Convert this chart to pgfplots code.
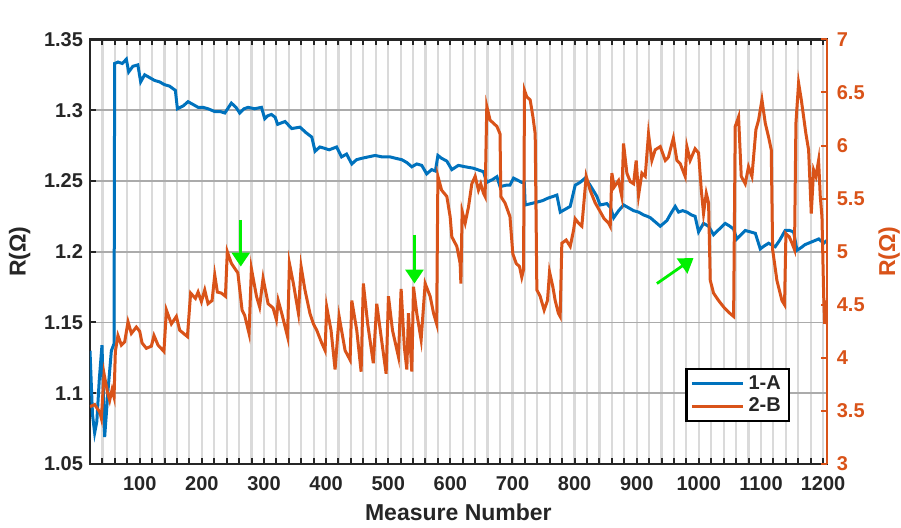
\documentclass[border=0pt]{standalone}
\usepackage{fontspec}
\setmainfont{Liberation Sans}
\usepackage{pgfplots}
\usepackage{pgfplotstable}
\pgfplotsset{compat=1.18}
\usetikzlibrary{arrows.meta}
\definecolor{mblue}{HTML}{0072BD}
\definecolor{morange}{HTML}{D95319}
\definecolor{mtext}{HTML}{262626}
\definecolor{vgrid}{HTML}{DADADA}
\definecolor{hgrid}{HTML}{ABABAB}
\definecolor{agreen}{HTML}{00F000}

% 1-A, left axis (x10^6 ohm)
\pgfplotstableread{
x y
20 1.130
24 1.085
27.5 1.072
31 1.080
35 1.110
39.3 1.134
43.6 1.069
49 1.102
54.4 1.130
58.7 1.135
59.7 1.333
65 1.334
72 1.333
78.5 1.336
82.3 1.327
89 1.331
97 1.332
101.6 1.320
108 1.325
116 1.323
124 1.321
132 1.320
140 1.318
148 1.317
157.4 1.314
160.7 1.301
170 1.303
177.8 1.306
186 1.304
194 1.302
202 1.302
210 1.301
221 1.299
230 1.299
237 1.298
247.6 1.305
255 1.302
261 1.298
268 1.301
274.5 1.302
285 1.301
296 1.302
301.3 1.294
306 1.296
312 1.297
318 1.295
322 1.290
334 1.292
344.7 1.287
358 1.288
368 1.284
377 1.281
382.3 1.271
390 1.274
398 1.273
405 1.272
417 1.274
425 1.267
433 1.269
441.4 1.262
449 1.265
457.5 1.266
468 1.267
479 1.268
490 1.267
503 1.267
512 1.266
522 1.265
530 1.263
538 1.260
546 1.262
554 1.261
562 1.255
570 1.258
576 1.257
580 1.268
586 1.266
594.4 1.264
602.4 1.258
613 1.261
624 1.260
637 1.259
653.4 1.2565
658.7 1.249
668 1.251
675 1.253
680 1.246
690 1.247
696 1.247
701.7 1.252
715 1.249
719 1.249
720.5 1.233
730 1.234
739 1.235
748 1.236
758 1.238
765 1.239
771.5 1.240
777 1.228
785 1.230
793 1.232
801 1.247
809 1.249
817 1.252
825 1.247
836 1.239
841 1.233
852 1.234
858 1.231
863 1.224
871 1.229
879 1.233
887 1.231
895 1.229
903 1.228
911 1.226
917 1.225
922 1.224
930 1.221
938 1.218
948.6 1.222
955 1.227
962 1.232
967.4 1.228
974 1.229
980.8 1.228
988 1.226
994 1.225
999.6 1.214
1007.6 1.220
1015.7 1.218
1023.7 1.212
1033 1.216
1042.5 1.220
1050 1.218
1056 1.216
1061 1.209
1068 1.212
1074.7 1.215
1083 1.214
1091 1.213
1098.9 1.202
1105 1.204
1112.3 1.206
1123 1.2035
1130 1.208
1139 1.215
1146 1.215
1152.6 1.214
1158 1.201
1165 1.203
1171 1.205
1182 1.207
1193 1.209
1201 1.206
1206 1.208
}\dataA

% 2-B, right axis (x10^6 ohm)
\pgfplotstableread{
x y
20 3.54
27.5 3.56
32 3.52
35.6 3.49
38.3 3.43
42.6 3.85
48 3.68
51.7 3.60
55.5 3.70
58.7 3.63
60.8 4.06
65 4.21
70.5 4.12
75.8 4.15
81.2 4.34
86.6 4.23
94.6 4.29
100 4.25
103.8 4.14
110.7 4.09
118.8 4.11
123 4.21
129.5 4.12
139 4.06
143 4.45
151 4.32
159 4.39
164.4 4.26
176.8 4.20
182 4.61
189.7 4.56
194 4.62
199.3 4.53
204.7 4.64
210 4.51
216.5 4.54
220.8 4.78
225 4.62
231.5 4.61
238 4.58
241 5.00
247.6 4.89
258 4.80
264.8 4.45
269 4.40
276 4.23
279.8 4.84
288 4.58
293 4.48
298.6 4.75
306.7 4.51
314.7 4.47
320 4.36
323 4.54
328.6 4.42
338 4.20
341 4.89
347.4 4.70
355.5 4.42
359.8 4.86
366 4.64
374 4.42
379.6 4.32
385 4.26
393 4.14
398.4 4.07
401 4.48
408 4.26
414.5 3.89
421 4.39
430.6 4.07
438.7 3.98
441.4 4.54
449.4 4.26
456.4 3.87
460 4.70
467 4.32
476 3.95
481.6 4.51
488.6 4.20
496.7 3.85
500.4 4.58
506.9 4.26
516.5 4.01
520.8 4.65
526 4.10
530 3.89
532.6 4.42
538 3.87
540.7 4.67
546 4.42
553 4.17
559.5 4.70
567.5 4.58
573 4.42
578 4.32
580 5.71
586 5.58
594.4 5.52
599.7 5.33
602.4 5.14
610.5 5.05
615.8 4.89
617 4.70
619 5.38
623.9 5.27
629.2 5.42
634.6 5.64
640 5.71
645.3 5.58
649 5.64
653.4 5.55
656 5.52
658.7 6.37
664 6.24
669.5 6.21
675 6.18
680 6.11
681.3 5.52
688 5.46
696 5.33
700.6 4.98
706 4.89
711.4 4.86
715 4.76
717.8 4.83
719.4 6.52
723 6.46
728.5 6.43
733 6.27
736.6 6.11
739.3 4.64
744.6 4.58
751 4.45
756.4 4.54
759.7 4.81
765 4.67
768.8 4.54
774 4.42
776.8 4.39
779.5 5.08
786.5 5.11
793 5.05
798.3 5.20
801 5.31
806.4 5.27
811.7 5.24
818.7 5.71
825 5.58
833.2 5.46
841 5.38
847.7 5.31
854.7 5.27
857.4 5.24
860 5.74
863.8 5.61
870.8 5.67
876 5.52
878.8 6.02
884.2 5.74
889.6 5.66
895 5.64
899.2 5.86
903 5.53
908.4 5.74
913.7 5.71
919 6.11
924.4 5.86
929.8 5.96
937.9 5.99
946 5.86
951 5.89
959 6.07
964.7 5.86
970 5.83
978 5.71
980.8 5.99
986 5.86
994 5.97
999.6 5.93
1004 5.58
1007.6 5.36
1012 5.55
1015.7 5.46
1018.4 4.73
1023.7 4.61
1031.8 4.54
1039.8 4.48
1047.9 4.43
1056 4.39
1058.6 6.18
1064 6.27
1068.3 5.71
1074.7 5.64
1080 5.80
1085.5 5.71
1091.9 6.15
1096.2 6.24
1101.6 6.43
1107 6.21
1112.3 6.08
1116.6 5.96
1118.8 5.02
1125.7 4.73
1133.8 4.54
1138 4.50
1140.2 5.17
1145.6 5.14
1150 5.08
1154 5.02
1156.3 6.21
1160.6 6.59
1165 6.43
1168.7 6.27
1172.4 6.11
1176.7 5.96
1181 5.36
1184.8 5.77
1188.5 5.71
1192.8 5.86
1195.5 5.52
1198.2 5.33
1201 4.58
1202.5 4.32
1206 4.54
}\dataB

\pgfplotsset{
  base/.style={
    scale only axis, width=368.4pt, height=212.3pt,
    at={(0,0)}, anchor=south west,
    xmin=20, xmax=1206,
    /pgf/number format/assume math mode=true,
    /pgf/number format/1000 sep={},
    tick align=inside,
    major tick length=3pt, minor tick length=3pt,
    tick label style={font=\fontsize{10}{12}\selectfont\bfseries},
    label style={font=\fontsize{11.5}{13}\selectfont\bfseries},
  },
}

\begin{document}
\begin{tikzpicture}
\useasboundingbox (-45pt,-31.5pt) rectangle (405.5pt,232pt);
\begin{axis}[base,
    ymin=1.05, ymax=1.35,
    xtick={100,200,...,1200},
    minor xtick={20,40,...,1200},
    ytick={1.05,1.1,1.15,1.2,1.25,1.3,1.35},
    yticklabel style={/pgf/number format/fixed, /pgf/number format/precision=2},
    xticklabel style={yshift=-2.5pt},
    xtick pos=both, xticklabel pos=bottom, ytick pos=left,
    xmajorgrids, xminorgrids, ymajorgrids,
    x grid style={vgrid, line width=1.1pt},
    y grid style={hgrid, line width=0.8pt},
    tick style={line width=1pt, mtext},
    axis line style={line width=1.3pt, mtext},
    tick label style={mtext},
    xlabel={Measure Number}, ylabel={R(Ω)},
    label style={mtext},
]
\addplot[mblue, line width=1.5pt] table {\dataA};
\node[anchor=base west, font=\fontsize{9.5}{11}\selectfont, text=mtext, inner sep=0pt]
  at ([xshift=1.5pt, yshift=3.3pt]rel axis cs:0,1) {×10\textsuperscript{6}};
\end{axis}
\begin{axis}[base,
    ymin=3, ymax=7,
    ytick={3,3.5,...,7},
    axis x line=none, axis y line*=right,
    y axis line style={-, morange, line width=1.3pt},
    ytick style={morange, line width=1pt},
    yticklabel style={morange, xshift=1.5pt},
    ylabel={R(Ω)}, ylabel style={morange},
    legend entries={1-A,2-B},
    legend cell align=left,
    legend style={at={(0.8077,0.226)}, anchor=north west, draw=black,
      line width=1.2pt, text=mtext, font=\fontsize{10}{12}\selectfont\bfseries,
      inner xsep=2pt, inner ysep=1pt, row sep=-1pt},
    legend image code/.code={\draw[#1] (0cm,0cm) -- (0.9cm,0cm);},
]
\addlegendimage{mblue, line width=1.5pt}
\addplot[morange, line width=1.5pt] table {\dataB};
\draw[agreen, line width=1.4pt, -{Triangle[length=7pt, width=9pt]}]
  (axis cs:262.7,5.30) -- (axis cs:262.7,4.86);
\draw[agreen, line width=1.4pt, -{Triangle[length=7pt, width=9pt]}]
  (axis cs:542.3,5.16) -- (axis cs:542.3,4.70);
\draw[agreen, line width=1.4pt, -{Triangle[length=7pt, width=9pt]}]
  (axis cs:932.5,4.70) -- (axis cs:991.5,4.94);
\node[anchor=base west, font=\fontsize{9.5}{11}\selectfont, text=morange, inner sep=0pt]
  at ([xshift=5pt, yshift=6.2pt]rel axis cs:1,1) {×10\textsuperscript{6}};
\end{axis}
\end{tikzpicture}
\end{document}
